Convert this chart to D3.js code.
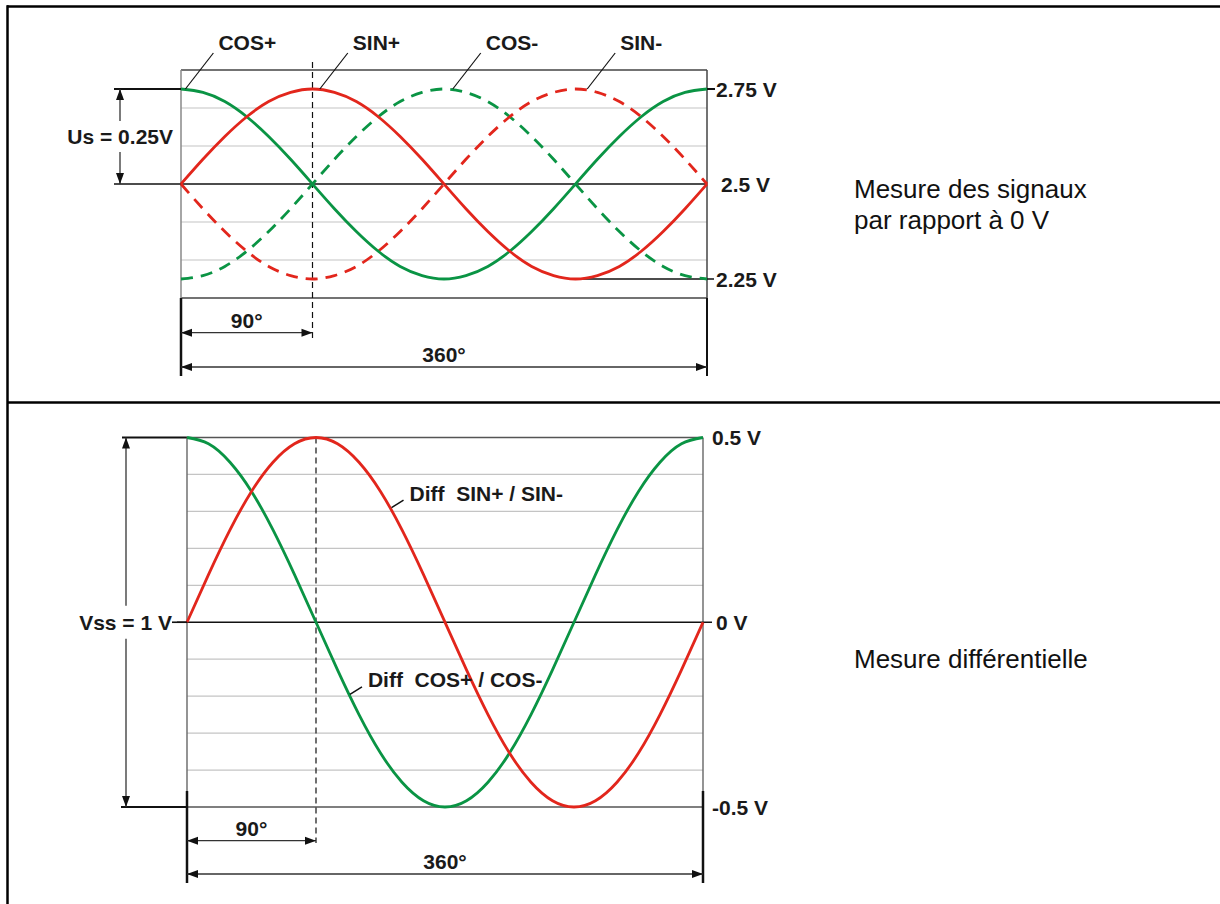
<!DOCTYPE html>
<html><head><meta charset="utf-8">
<script src="https://cdn.jsdelivr.net/npm/d3@7"></script>
<style>
body{margin:0;background:#fff}
svg{display:block}
text{font-family:"Liberation Sans",Arial,Helvetica,sans-serif}
</style>
</head><body>
<svg id="c" width="1220" height="904"></svg>
<script>
// ---------- DATA ----------
const angles = [0,15,30,45,60,75,90,105,120,135,150,165,180,195,210,225,240,255,270,285,300,315,330,345,360];

// Top chart: signals measured against 0 V (volts)
const cosPlus  = [2.75,2.741,2.717,2.677,2.625,2.565,2.5,2.435,2.375,2.323,2.283,2.259,2.25,2.259,2.283,2.323,2.375,2.435,2.5,2.565,2.625,2.677,2.717,2.741,2.75];
const sinPlus  = [2.5,2.565,2.625,2.677,2.717,2.741,2.75,2.741,2.717,2.677,2.625,2.565,2.5,2.435,2.375,2.323,2.283,2.259,2.25,2.259,2.283,2.323,2.375,2.435,2.5];
const cosMinus = [2.25,2.259,2.283,2.323,2.375,2.435,2.5,2.565,2.625,2.677,2.717,2.741,2.75,2.741,2.717,2.677,2.625,2.565,2.5,2.435,2.375,2.323,2.283,2.259,2.25];
const sinMinus = [2.5,2.435,2.375,2.323,2.283,2.259,2.25,2.259,2.283,2.323,2.375,2.435,2.5,2.565,2.625,2.677,2.717,2.741,2.75,2.741,2.717,2.677,2.625,2.565,2.5];

const topDomain = [2.2, 2.8];
const topGrid = [2.3, 2.4, 2.6, 2.7];
const topTickValues = [2.75, 2.5, 2.25];
const topTickLabels = ["2.75 V", "2.5 V", "2.25 V"];
const topSeriesNames = ["COS+", "SIN+", "COS-", "SIN-"];
const topLabelAngles = [3, 95, 186, 278];
const topLabelValues = [2.75, 2.75, 2.75, 2.75];
const usLabel = "Us = 0.25V";

// Bottom chart: differential measurement (volts)
const diffSin = [0,0.129,0.25,0.354,0.433,0.483,0.5,0.483,0.433,0.354,0.25,0.129,0,-0.129,-0.25,-0.354,-0.433,-0.483,-0.5,-0.483,-0.433,-0.354,-0.25,-0.129,0];
const diffCos = [0.5,0.483,0.433,0.354,0.25,0.129,0,-0.129,-0.25,-0.354,-0.433,-0.483,-0.5,-0.483,-0.433,-0.354,-0.25,-0.129,0,0.129,0.25,0.354,0.433,0.483,0.5];

const botDomain = [-0.5, 0.5];
const botGrid = [-0.4,-0.3,-0.2,-0.1,0.1,0.2,0.3,0.4];
const botTickValues = [0.5, 0, -0.5];
const botTickLabels = ["0.5 V", "0 V", "-0.5 V"];
const diffNames = ["Diff  SIN+ / SIN-", "Diff  COS+ / COS-"];
const diffLabelAngles = [142, 113];
const diffLabelValues = [0.31, -0.195];
const vssLabel = "Vss = 1 V";

const angleMarks = [90, 360];
const angleLabels = ["90°", "360°"];
const sideTextTop = ["Mesure des signaux", "par rapport à 0 V"];
const sideTextBottom = ["Mesure différentielle"];

// ---------- DRAWING ----------
const svg = d3.select("#c");
const GREEN = "#0a9444", RED = "#e2261c";
const GRID = "#c4c4c4";

function line(x1,y1,x2,y2,stroke,w,dash){
  const l = svg.append("line").attr("x1",x1).attr("y1",y1).attr("x2",x2).attr("y2",y2)
    .attr("stroke",stroke).attr("stroke-width",w);
  if (dash) l.attr("stroke-dasharray",dash);
  return l;
}
function head(x,y,dx,dy){ // arrow tip at (x,y) pointing in direction (dx,dy)
  const L=11, W=4;
  const px=-dy, py=dx;
  svg.append("path")
    .attr("d",`M${x},${y}L${x-dx*L+px*W},${y-dy*L+py*W}L${x-dx*L-px*W},${y-dy*L-py*W}Z`)
    .attr("fill","#111");
}
function dimArrow(x1,y1,x2,y2){
  line(x1,y1,x2,y2,"#333",1.3);
  const len=Math.hypot(x2-x1,y2-y1), dx=(x2-x1)/len, dy=(y2-y1)/len;
  head(x2,y2,dx,dy); head(x1,y1,-dx,-dy);
}
function boldText(x,y,t,anchor){
  return svg.append("text").attr("x",x).attr("y",y).attr("text-anchor",anchor||"start")
    .attr("font-size",21).attr("font-weight","bold").attr("fill","#1a1a1a")
    .style("white-space","pre").text(t);
}
function knockout(txt,pad){
  const b = txt.node().getBBox();
  svg.insert("rect", function(){return txt.node();})
    .attr("x",b.x-pad).attr("y",b.y-pad).attr("width",b.width+2*pad).attr("height",b.height+2*pad)
    .attr("fill","#fff");
}

// outer frame
line(7,6.5,1220,6.5,"#000",2.5);
line(7.5,5.3,7.5,904,"#000",2.5);
line(7,402.5,1220,402.5,"#000",2.5);

// ===== TOP CHART =====
const xT = d3.scaleLinear().domain([0,360]).range([181,707]);
const yT = d3.scaleLinear().domain(topDomain).range([298,70]);

topGrid.forEach(v => line(xT(0),yT(v),xT(360),yT(v),GRID,1.2));
// box
line(xT(0),yT(topDomain[1]),xT(360),yT(topDomain[1]),"#444",1.5);
line(xT(0),yT(topDomain[0]),xT(360),yT(topDomain[0]),"#444",1.5);
line(xT(0),yT(topDomain[1]),xT(0),yT(topDomain[0]),"#888",1.5);
line(xT(360),yT(topDomain[1]),xT(360),yT(topDomain[0]),"#444",1.5);
// extension lines
line(xT(0),yT(topDomain[0]),xT(0),376,"#111",2.5);
line(xT(360),yT(topDomain[0]),xT(360),376,"#111",2);
// reference lines
line(114,yT(2.75),xT(0),yT(2.75),"#111",2);
line(xT(360),yT(2.75),xT(360)+8,yT(2.75),"#111",2);
line(114,yT(2.5),xT(360),yT(2.5),"#111",1.6);
line(xT(270),yT(2.25),xT(360)+7,yT(2.25),"#111",1.6);
// 90° dashed marker
line(xT(90),62,xT(90),339,"#111",1.2,"6,4");

const lineT = d3.line().x((d,i)=>xT(angles[i])).y(d=>yT(d)).curve(d3.curveNatural);
const topSeries = [
  {v:cosPlus, c:GREEN, dash:null},
  {v:sinPlus, c:RED, dash:null},
  {v:cosMinus, c:GREEN, dash:"12,8"},
  {v:sinMinus, c:RED, dash:"12,8"}
];
// dashed first, solid on top
[2,3,0,1].forEach(k=>{
  const s=topSeries[k];
  const p=svg.append("path").attr("d",lineT(s.v)).attr("fill","none")
    .attr("stroke",s.c).attr("stroke-width",2.8);
  if(s.dash) p.attr("stroke-dasharray",s.dash);
});

// series labels with leaders
topSeriesNames.forEach((n,i)=>{
  const ax=xT(topLabelAngles[i]), ay=yT(topLabelValues[i]);
  line(ax,ay,ax+28,53,"#111",1.2);
  boldText(ax+33,50,n);
});
// value labels
topTickValues.forEach((v,i)=>{
  boldText(xT(360)+(i===1?14:9),yT(v)+7.5,topTickLabels[i]);
});
// Us dimension
dimArrow(120,yT(2.75),120,yT(2.5));
const us = boldText(173,yT(2.625)+7.5,usLabel,"end");
knockout(us,4);
// angle dimensions
dimArrow(xT(0),332.7,xT(angleMarks[0]),332.7);
boldText((xT(0)+xT(angleMarks[0]))/2,327.5,angleLabels[0],"middle");
dimArrow(xT(0),367,xT(angleMarks[1]),367);
boldText((xT(0)+xT(angleMarks[1]))/2,362,angleLabels[1],"middle");

// side text
sideTextTop.forEach((t,i)=>{
  svg.append("text").attr("x",854).attr("y",198+i*31).attr("font-size",26).attr("fill","#111").text(t);
});

// ===== BOTTOM CHART =====
const xB = d3.scaleLinear().domain([0,360]).range([187,703]);
const yB = d3.scaleLinear().domain(botDomain).range([807,437.5]);

botGrid.forEach(v => line(xB(0),yB(v),xB(360),yB(v),GRID,1.2));
line(122,yB(0.5),xB(0),yB(0.5),"#111",2);
line(xB(0),yB(0.5),xB(360),yB(0.5),"#555",1.6);
line(121,yB(-0.5),xB(0),yB(-0.5),"#111",2);
line(xB(0),yB(-0.5),xB(360),yB(-0.5),"#555",1.6);
line(xB(0),yB(0.5),xB(0),791,"#666",1.4);
line(xB(360),yB(0.5),xB(360),791,"#666",1.4);
line(xB(0),791,xB(0),883,"#111",2.5);
line(xB(360),791,xB(360),883,"#111",2.5);
line(177,yB(0),xB(360)+9,yB(0),"#111",1.6);
line(xB(90),yB(0.5),xB(90),843,"#111",1.2,"6,4");

const lineB = d3.line().x((d,i)=>xB(angles[i])).y(d=>yB(d)).curve(d3.curveNatural);
[[diffCos,GREEN],[diffSin,RED]].forEach(([v,c])=>{
  svg.append("path").attr("d",lineB(v)).attr("fill","none").attr("stroke",c).attr("stroke-width",2.8);
});

diffNames.forEach((n,i)=>{
  const ax=xB(diffLabelAngles[i]), ay=yB(diffLabelValues[i]);
  line(ax+1,ay,ax+13,ay-7.5,"#111",1.5);
  boldText(ax+19,ay-7,n);
});
botTickValues.forEach((v,i)=>{
  boldText(xB(360)+(i===1?13:9),yB(v)+7.5,botTickLabels[i]);
});
dimArrow(126,yB(0.5),126,yB(-0.5));
const vss = boldText(172,yB(0)+7.5,vssLabel,"end");
knockout(vss,5);
line(172,yB(0),xB(0),yB(0),"#111",1.6);

dimArrow(xB(0),840.7,xB(angleMarks[0]),840.7);
boldText((xB(0)+xB(angleMarks[0]))/2,836,angleLabels[0],"middle");
dimArrow(xB(0),874,xB(angleMarks[1]),874);
boldText((xB(0)+xB(angleMarks[1]))/2,869,angleLabels[1],"middle");

sideTextBottom.forEach((t,i)=>{
  svg.append("text").attr("x",854).attr("y",668+i*31).attr("font-size",26).attr("fill","#111").text(t);
});
</script>
</body></html>
